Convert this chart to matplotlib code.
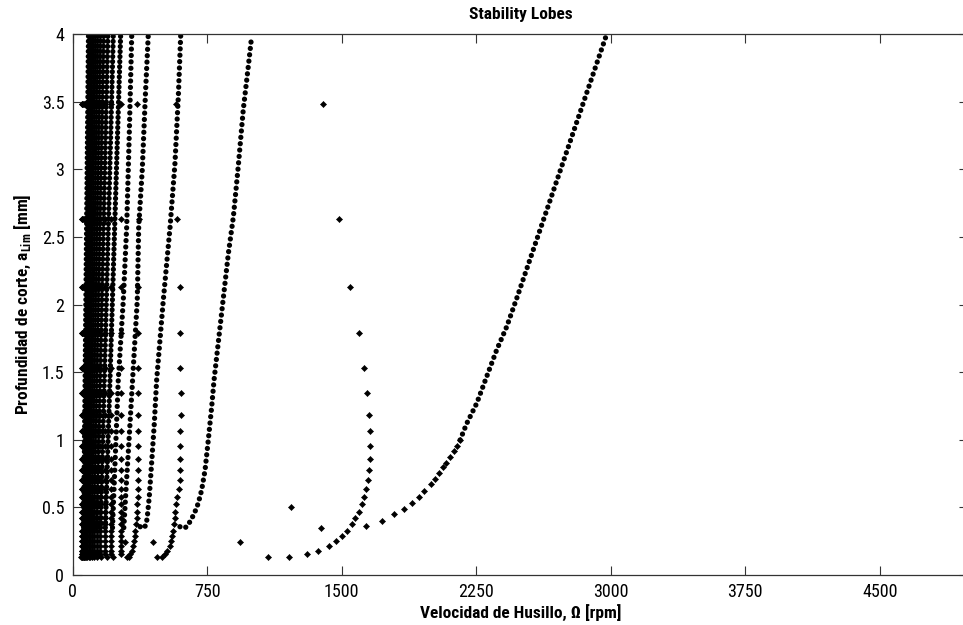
import matplotlib
matplotlib.use("Agg")
import matplotlib.pyplot as plt
from matplotlib import font_manager

# ---------------- data ----------------
# depth values shared by the sparse "left" branches (mm)
l_y = [0.133, 0.133, 0.153, 0.180, 0.217, 0.254, 0.291, 0.325, 0.377, 0.424,
       0.468, 0.523, 0.579, 0.636, 0.702, 0.776, 0.858, 0.954, 1.065, 1.185,
       1.343, 1.533, 1.787, 2.129, 2.634, 3.480]
# left branches of the three largest lobes (rpm)
l0_x = [1089, 1208, 1306, 1370, 1427, 1468, 1503, 1528, 1556, 1576, 1597, 1611,
        1623, 1635, 1645, 1652, 1658, 1659, 1658, 1650, 1639, 1624, 1597, 1546,
        1483, 1397]
l1_x = [468, 496, 515, 527, 540, 549, 556, 561, 566, 570, 573, 576, 583, 590,
        598, 598, 598, 598, 598, 604, 606, 598, 598, 598, 583, 578]
l2_x = [300, 312, 322, 330, 338, 343, 347, 350, 353, 356, 358, 361, 363, 365,
        366, 366, 366, 366, 366, 366, 366, 366, 366, 366, 368, 357]
# isolated points
iso_x = [933, 446, 292, 1216, 1386]
iso_y = [0.242, 0.246, 0.242, 0.505, 0.347]
# left branches of higher lobes (dense band): column position and foot position
lcol_x = [268, 213, 180, 154, 134, 119, 107, 97, 89, 82, 76, 71, 66, 62, 58, 54, 50]
lbot_x = [227, 190, 160, 138, 121, 108, 98, 89, 82, 76, 70, 65, 61, 57, 53, 50, 46]

# right branch of lobe 0 (sparse part, individual points)
r0s_x = [1635, 1723, 1792, 1847, 1892, 1933, 1961, 1998, 2020, 2044, 2066, 2082,
         2104, 2124, 2141, 2160]
r0s_y = [0.365, 0.401, 0.451, 0.486, 0.532, 0.579, 0.623, 0.673, 0.710, 0.757,
         0.796, 0.830, 0.875, 0.919, 0.954, 0.998]
# right branch of lobe 0 (dense part)
r0d_x = [2160, 2197, 2253, 2308, 2364, 2420, 2479, 2974]
r0d_y = [0.998, 1.120, 1.270, 1.466, 1.664, 1.836, 2.058, 3.985]
# right branches of lobes 1..4
r1_x = [598, 617, 636, 660, 682, 700, 719, 738, 756, 775, 788, 840, 868, 896, 923, 951, 979, 998]
r1_y = [0.357, 0.345, 0.357, 0.407, 0.468, 0.530, 0.628, 0.776, 0.998, 1.244, 1.440,
        2.050, 2.378, 2.650, 3.020, 3.440, 3.760, 3.985]
r2_x = [376, 394, 409, 416, 427, 440, 455, 468, 505, 543, 570, 589, 602]
r2_y = [0.357, 0.345, 0.370, 0.430, 0.579, 0.826, 1.120, 1.440, 2.030, 2.575, 3.040, 3.540, 3.985]
r3_x = [285, 298, 312, 332, 360, 368, 388, 405, 421]
r3_y = [0.350, 0.650, 0.950, 1.400, 2.030, 2.575, 3.000, 3.540, 3.985]
r4_x = [222, 254, 282, 301, 316, 329]
r4_y = [0.350, 1.440, 2.030, 2.575, 3.290, 3.985]
# right branches of higher lobes: foot (y~0.35) and top (y~4)
rbot_x = [182, 155, 134, 118, 106, 96, 88, 81, 75, 70, 65, 61]
rtop_x = [267, 226, 196, 173, 155, 140, 128, 118, 109, 101, 94, 88]

xticks = [0, 750, 1500, 2250, 3000, 3750, 4500]
yticks = [0, 0.5, 1, 1.5, 2, 2.5, 3, 3.5, 4]
ytick_labels = ["0", "0.5", "1", "1.5", "2", "2.5", "3", "3.5", "4"]

# ---------------- styling ----------------
entries = font_manager.fontManager.ttflist
names = {f.name for f in entries}
fam = "Liberation Sans"
stretch = "normal"
for cand in ("Liberation Sans Narrow", "Arial Narrow", "Roboto Condensed",
             "Open Sans Condensed", "DejaVu Sans Condensed"):
    if cand in names:
        fam = cand
        break
else:
    cond = [f for f in entries if f.name == "DejaVu Sans" and
            str(f.stretch) in ("condensed", "semi-condensed", "75", "87.5")]
    if cond:
        fam = "DejaVu Sans"
        stretch = "condensed"
plt.rcParams["font.family"] = [fam, "DejaVu Sans"]
plt.rcParams["font.stretch"] = stretch
plt.rcParams["mathtext.fontset"] = "custom"
plt.rcParams["mathtext.rm"] = fam
plt.rcParams["mathtext.bf"] = fam + ":bold"

fig = plt.figure(figsize=(9.63, 6.25), dpi=100)
ax = fig.add_axes([72.7 / 963, 50 / 625, (968 - 72.7) / 963, 541 / 625])

mk = dict(ls="none", marker="D", ms=3.1, mec="black", mfc="black", mew=0.4)
dot = dict(color="black", lw=3.8, dash_capstyle="round", solid_capstyle="round")
dense_pat = (0, (0.01, 1.2))
band_pat = (0, (0.01, 0.95))

# sparse left branches
for lx in (l0_x, l1_x, l2_x):
    ax.plot(lx, l_y, **mk)
ax.plot(iso_x, iso_y, **mk)
for cx, bx in zip(lcol_x, lbot_x):
    ax.plot([bx] + [cx] * (len(l_y) - 2), [l_y[0]] + l_y[2:], **mk)

# right branches
ax.plot(r0s_x, r0s_y, **mk)
ax.plot(r0d_x, r0d_y, linestyle=dense_pat, **dot)
for rx, ry in ((r1_x, r1_y), (r2_x, r2_y), (r3_x, r3_y), (r4_x, r4_y)):
    ax.plot(rx, ry, linestyle=dense_pat, **dot)
for bx, tx in zip(rbot_x, rtop_x):
    ax.plot([bx, tx], [0.35, 3.985], linestyle=band_pat, **dot)

ax.set_xlim(0, 4992)
ax.set_ylim(0, 4)
ax.set_xticks(xticks)
ax.set_xticklabels([str(t) for t in xticks])
ax.set_yticks(yticks)
ax.set_yticklabels(ytick_labels)
ax.tick_params(direction="in", length=6.5, width=0.8, color="#333333",
               top=True, right=True, labelsize=13, pad=6)
for s in ax.spines.values():
    s.set_color("#333333")
    s.set_linewidth(0.9)
ax.spines["right"].set_visible(False)

ax.set_title("Stability Lobes", fontsize=12.5, fontweight="bold", pad=11)
ax.set_xlabel("Velocidad de Husillo, \u03a9 [rpm]", fontsize=12.5, fontweight="bold", labelpad=2)
ax.set_ylabel(r"Profundidad de corte, a$_{\mathbf{Lim}}$ [mm]", fontsize=12.5,
              fontweight="bold", labelpad=6)

fig.savefig("out.png", dpi=100)
